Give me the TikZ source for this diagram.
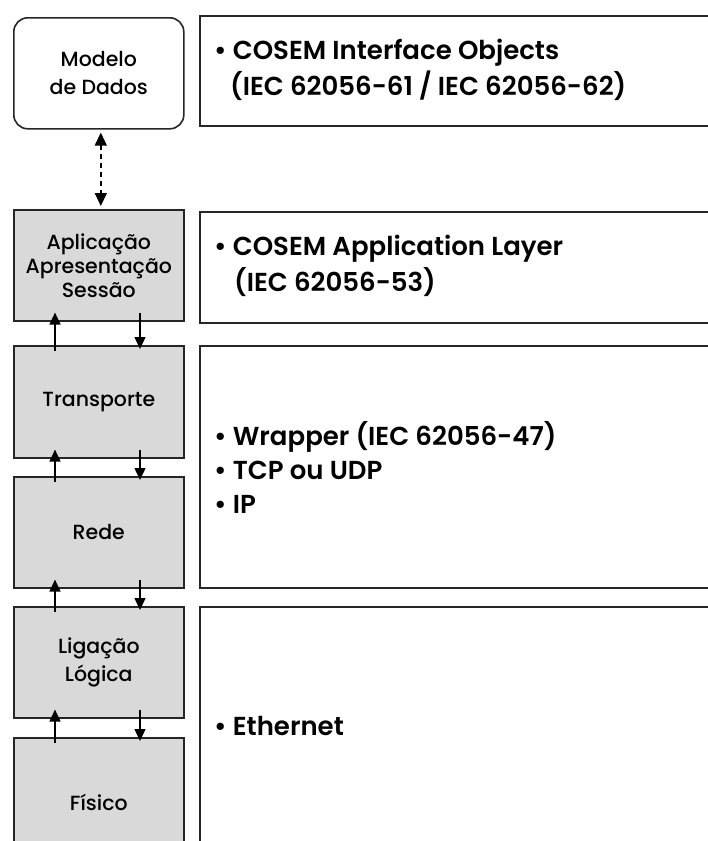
\documentclass[tikz,border=0pt]{standalone}
\usepackage{fontspec}
\setmainfont{Poppins}
\newfontfamily\labelfont{Poppins Medium}
\newfontfamily\infofont{Poppins SemiBold}
\usetikzlibrary{arrows.meta,calc}
\begin{document}
\begin{tikzpicture}[x=1pt,y=-1pt,
  layer/.style={draw=black!85,line width=1.6pt,fill=gray!30,minimum width=170pt,anchor=north west,inner sep=0pt,align=center,font=\labelfont\fontsize{20.5}{24}\selectfont},
  infobox/.style={draw=black!85,line width=1.6pt,fill=white,anchor=north west,inner sep=0pt,minimum width=540pt},
  info/.style={anchor=west,align=left,inner sep=0pt,font=\infofont\fontsize{26}{36}\selectfont},
  flow/.style={line width=1.4pt,-{Triangle[width=11pt,length=12pt]}},
]
\clip (0,0) rectangle (708,841);
\fill[white] (0,0) rectangle (708,841);
% left column
\node[layer,fill=white,rounded corners=14pt,minimum height=111pt,font=\labelfont\fontsize{20.5}{28}\selectfont] (modelo) at (13,17) {Modelo\\de Dados};
\node[layer,minimum height=111pt] (apl) at (13,209) {Aplicação\\Apresentação\\Sessão};
\node[layer,minimum height=112pt] (trans) at (13,345) {Transporte};
\node[layer,minimum height=111pt] (rede) at (13,476) {Rede};
\node[layer,minimum height=111pt,font=\labelfont\fontsize{20.5}{28}\selectfont] (lig) at (13,606) {Ligação\\Lógica};
\node[layer,minimum height=130pt] (fis) at (13,737) {Físico};
% right column
\node[infobox,minimum height=110pt] (b1) at (199,15) {};
\node[infobox,minimum height=111pt] (b2) at (199,211) {};
\node[infobox,minimum height=242pt] (b3) at (199,345) {};
\node[infobox,minimum height=260pt] (b4) at (199,606) {};
\node[info] (t1) at (214,70) {• COSEM Interface Objects\\\hspace{16pt}(IEC 62056-61 / IEC 62056-62)};
\node[info] (t2) at (214,266) {• COSEM Application Layer\\\hspace{20pt}(IEC 62056-53)};
\node[info,font=\infofont\fontsize{26}{34}\selectfont] (t3) at (214,467) {• Wrapper (IEC 62056-47)\\• TCP ou UDP\\• IP};
\node[info] (t4) at (214,726) {• Ethernet};
% arrows
\draw[line width=1.4pt,dash pattern=on 5pt off 4pt,{Triangle[width=12pt,length=13pt]}-{Triangle[width=12pt,length=13pt]}]
  ($(modelo.south)+(2,3)$) -- ($(apl.north)+(2,-3)$);
\foreach \u/\l in {apl/trans,trans/rede,rede/lig,lig/fis}{
  \draw[flow] ($(\l.north west)+(42,6)$) -- ($(\u.south west)+(42,-9)$);
  \draw[flow] ($(\u.south west)+(127,-9)$) -- ($(\l.north west)+(127,4)$);
}
\end{tikzpicture}
\end{document}
